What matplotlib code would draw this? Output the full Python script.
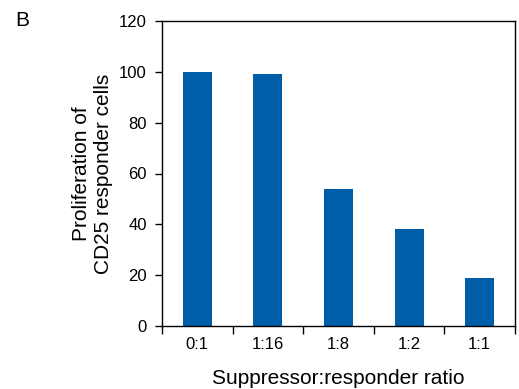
import numpy as np
import matplotlib.pyplot as plt
from matplotlib.ticker import FixedLocator

plt.rcParams['font.family'] = ['Liberation Sans', 'DejaVu Sans']

# data
ratios = ['0:1', '1:16', '1:8', '1:2', '1:1']
proliferation = [100, 99.2, 54, 38.2, 19]
yticks = [0, 20, 40, 60, 80, 100, 120]

fig = plt.figure(figsize=(5.19, 3.89), dpi=100)
ax = fig.add_axes([162 / 519, 1 - 326 / 389, (515 - 162) / 519, (326 - 21) / 389])

x = np.arange(len(ratios))
ax.bar(x, proliferation, width=0.41, color='#005DA8')

ax.set_xlim(-0.5, len(ratios) - 0.5)
ax.set_ylim(0, 120)
ax.set_yticks(yticks)
ax.set_xticks(x)
ax.set_xticklabels(ratios, fontsize=12)
ax.xaxis.set_minor_locator(FixedLocator(np.arange(-0.5, len(ratios), 1.0)))
ax.tick_params(axis='x', which='major', length=0, pad=8)
ax.tick_params(axis='x', which='minor', length=6, direction='out', width=1)
ax.tick_params(axis='y', labelsize=12, length=5, direction='out', width=1, pad=6)

for s in ax.spines.values():
    s.set_linewidth(1.0)
    s.set_color('black')

ax.set_xlabel('Suppressor:responder ratio', fontsize=15, labelpad=12)
ax.set_ylabel('Proliferation of\nCD25 responder cells', fontsize=15, labelpad=4)

fig.text(15 / 519, 1 - 20 / 389, 'B', fontsize=15, va='center', ha='left')

fig.savefig('out.png', dpi=100)
